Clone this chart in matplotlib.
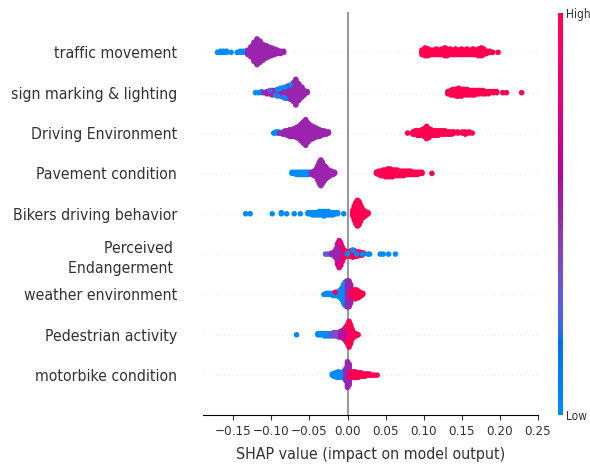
import numpy as np
import matplotlib
matplotlib.use("Agg")
import matplotlib.pyplot as plt
from matplotlib.colors import LinearSegmentedColormap
import matplotlib.cm as cm

# ---------------- data ----------------
features = [
    "traffic movement",
    "sign marking & lighting",
    "Driving Environment",
    "Pavement condition",
    "Bikers driving behavior",
    "Perceived \nEndangerment ",
    "weather environment",
    "Pedestrian activity",
    "motorbike condition",
]

# each entry: (SHAP value, number of samples at that value, feature value level 0=low .. 1=high)
traffic_movement = [
    (-0.171, 1, 0), (-0.167, 2, 0), (-0.163, 2, 0), (-0.159, 2, 0), (-0.153, 1, 0),
    (-0.145, 1, 0), (-0.141, 2, 0), (-0.137, 2, 0), (-0.134, 2, 0),
    (-0.131, 5, .5), (-0.127, 10, .5), (-0.123, 18, .5), (-0.119, 24, .5), (-0.115, 20, .5),
    (-0.111, 15, .5), (-0.107, 12, .5), (-0.104, 10, .5), (-0.100, 8, .5), (-0.096, 6, .5),
    (-0.092, 4, .5), (-0.088, 3, .5), (-0.084, 2, .5),
    (0.098, 5, 1), (0.102, 8, 1), (0.106, 7, 1), (0.109, 5, 1), (0.113, 5, 1), (0.117, 6, 1),
    (0.120, 5, 1), (0.124, 6, 1), (0.128, 8, 1), (0.131, 7, 1), (0.135, 6, 1), (0.139, 5, 1),
    (0.142, 6, 1), (0.146, 5, 1), (0.150, 6, 1), (0.153, 5, 1), (0.157, 6, 1), (0.161, 5, 1),
    (0.165, 6, 1), (0.168, 5, 1), (0.172, 7, 1), (0.176, 8, 1), (0.179, 6, 1), (0.183, 3, 1),
    (0.187, 2, 1), (0.191, 1, 1), (0.198, 1, 1),
]
sign_marking = [
    (-0.121, 1, 0), (-0.117, 1, 0), (-0.113, 2, 0), (-0.106, 1, 0), (-0.099, 2, 0),
    (-0.110, 1, .5), (-0.106, 2, .5), (-0.102, 3, .5), (-0.099, 3, .5), (-0.095, 4, .5),
    (-0.092, 5, .5), (-0.088, 7, .5), (-0.085, 8, .5), (-0.082, 9, .5), (-0.078, 12, .5),
    (-0.075, 13, .5), (-0.071, 18, .5), (-0.068, 24, .5), (-0.064, 16, .5), (-0.060, 10, .5),
    (-0.057, 5, .5), (-0.053, 2, .5),
    (-0.102, 1, .3), (-0.095, 1, .3), (-0.085, 1, .3),
    (-0.092, 2, 0), (-0.088, 1, 0), (-0.082, 2, 0), (-0.075, 1, 0),
    (0.132, 3, 1), (0.136, 5, 1), (0.139, 6, 1), (0.143, 7, 1), (0.146, 8, 1), (0.150, 7, 1),
    (0.153, 6, 1), (0.157, 6, 1), (0.160, 5, 1), (0.164, 5, 1), (0.167, 5, 1), (0.171, 4, 1),
    (0.174, 4, 1), (0.178, 4, 1), (0.181, 3, 1), (0.185, 3, 1), (0.188, 2, 1), (0.192, 2, 1),
    (0.196, 2, 1), (0.204, 1, 1), (0.209, 1, 1), (0.229, 1, 1),
]
driving_environment = [
    (-0.097, 1, 0), (-0.094, 2, 0), (-0.091, 2, 0), (-0.088, 1, 0), (-0.085, 2, 0),
    (-0.082, 2, 0), (-0.079, 2, 0), (-0.076, 2, 0), (-0.073, 1, 0),
    (-0.089, 1, .5), (-0.085, 1, .5), (-0.082, 2, .5), (-0.079, 3, .5), (-0.076, 5, .5),
    (-0.073, 6, .5), (-0.070, 8, .5), (-0.067, 10, .5), (-0.064, 12, .5), (-0.061, 16, .5),
    (-0.058, 20, .5), (-0.055, 24, .5), (-0.052, 18, .5), (-0.049, 14, .5), (-0.046, 12, .5),
    (-0.043, 10, .5), (-0.040, 8, .5), (-0.037, 7, .5), (-0.034, 5, .5), (-0.031, 4, .5),
    (-0.028, 3, .5), (-0.025, 2, .5),
    (0.079, 1, 1), (0.086, 3, 1), (0.089, 4, 1), (0.092, 5, 1), (0.095, 5, 1), (0.098, 6, 1),
    (0.101, 8, 1), (0.104, 12, 1), (0.107, 9, 1), (0.110, 6, 1), (0.113, 5, 1), (0.116, 5, 1),
    (0.119, 5, 1), (0.122, 4, 1), (0.125, 4, 1), (0.128, 4, 1), (0.131, 3, 1), (0.134, 3, 1),
    (0.137, 3, 1), (0.140, 2, 1), (0.145, 2, 1), (0.151, 2, 1), (0.155, 3, 1), (0.160, 2, 1),
    (0.164, 1, 1),
]
pavement_condition = [
    (-0.073, 2, 0), (-0.070, 2, 0), (-0.067, 3, 0), (-0.064, 3, 0), (-0.061, 3, 0),
    (-0.058, 3, 0), (-0.055, 3, 0), (-0.052, 3, 0), (-0.049, 2, 0),
    (-0.047, 3, .5), (-0.044, 5, .5), (-0.041, 8, .5), (-0.039, 14, .5), (-0.037, 20, .5),
    (-0.035, 24, .5), (-0.033, 20, .5), (-0.031, 15, .5), (-0.029, 12, .5), (-0.027, 9, .5),
    (-0.025, 7, .5), (-0.023, 5, .5), (-0.021, 4, .5), (-0.019, 3, .5), (-0.017, 2, .5),
    (0.038, 2, 1), (0.041, 4, 1), (0.044, 5, 1), (0.047, 6, 1), (0.050, 7, 1), (0.053, 8, 1),
    (0.056, 8, 1), (0.059, 7, 1), (0.062, 6, 1), (0.065, 6, 1), (0.068, 5, 1), (0.071, 5, 1),
    (0.074, 5, 1), (0.077, 4, 1), (0.080, 4, 1), (0.083, 4, 1), (0.086, 3, 1), (0.089, 3, 1),
    (0.092, 3, 1), (0.095, 2, 1), (0.098, 2, 1), (0.111, 1, 1),
]
bikers_behavior = [
    (-0.134, 1, 0), (-0.128, 1, 0), (-0.099, 1, 0), (-0.087, 2, 0), (-0.080, 1, 0),
    (-0.070, 1, 0), (-0.062, 1, 0), (-0.052, 2, 0), (-0.049, 2, 0), (-0.046, 3, 0),
    (-0.043, 3, 0), (-0.040, 3, 0), (-0.037, 4, 0), (-0.034, 4, 0), (-0.031, 5, 0),
    (-0.028, 4, 0), (-0.025, 4, 0), (-0.022, 3, 0), (-0.019, 3, 0), (-0.016, 2, 0),
    (-0.013, 2, 0), (-0.005, 1, 0),
    (0.007, 6, 1), (0.009, 14, 1), (0.011, 20, 1), (0.013, 24, 1), (0.015, 22, 1),
    (0.017, 16, 1), (0.019, 10, 1), (0.021, 7, 1), (0.023, 5, 1), (0.025, 3, 1), (0.027, 2, 1),
]
perceived_endangerment = [
    (-0.029, 1, .3), (-0.026, 1, .3), (-0.023, 1, .3),
    (-0.021, 2, .5), (-0.019, 3, .5), (-0.017, 5, .5), (-0.015, 10, .5), (-0.013, 18, .5),
    (-0.011, 24, .5), (-0.009, 20, .5), (-0.007, 12, .5), (-0.005, 6, .5), (-0.003, 4, .5),
    (-0.013, 3, .75), (-0.011, 3, .75), (-0.009, 3, .75), (-0.007, 3, .75), (-0.003, 2, .75),
    (-0.005, 3, 1), (-0.002, 4, 1), (0.001, 5, 1), (0.004, 6, 1), (0.007, 7, 1), (0.010, 6, 1),
    (0.013, 5, 1), (0.016, 4, 1), (0.019, 3, 1), (0.021, 2, 1),
    (0.000, 2, 0), (0.007, 1, 0), (0.012, 1, 0), (0.020, 1, 0), (0.027, 1, 0), (0.029, 1, 0),
    (0.043, 1, 0), (0.047, 1, 0), (0.054, 1, 0), (0.063, 1, 0),
]
weather_environment = [
    (-0.031, 1, 0), (-0.028, 2, 0), (-0.025, 2, 0), (-0.022, 2, 0), (-0.019, 3, 0),
    (-0.016, 3, 0), (-0.013, 4, 0), (-0.011, 6, 0), (-0.009, 8, 0), (-0.007, 12, 0),
    (-0.005, 18, 0), (-0.003, 22, 0), (-0.001, 24, 0),
    (-0.016, 1, 1),
    (0.000, 24, .5), (0.002, 24, .5), (0.004, 18, .5), (0.006, 8, .5),
    (0.005, 4, 1), (0.008, 8, 1), (0.010, 9, 1), (0.012, 8, 1), (0.014, 7, 1), (0.016, 5, 1),
    (0.018, 3, 1), (0.020, 2, 1),
]
pedestrian_activity = [
    (-0.067, 1, 0), (-0.039, 2, 0), (-0.036, 2, 0), (-0.033, 2, 0), (-0.030, 3, 0),
    (-0.027, 3, 0), (-0.024, 3, 0),
    (-0.021, 3, .35), (-0.018, 4, .35), (-0.015, 4, .35), (-0.012, 5, .35),
    (-0.009, 6, .55), (-0.006, 8, .55), (-0.004, 10, .55), (-0.002, 14, .55),
    (0.000, 10, .8), (0.002, 12, .8), (0.004, 10, .8), (0.006, 6, .8),
    (0.000, 8, 1), (0.002, 12, 1), (0.004, 8, 1), (0.006, 4, 1), (0.008, 5, 1),
    (0.011, 3, 1), (0.014, 1, 1),
]
motorbike_condition = [
    (-0.020, 2, 0), (-0.018, 3, 0), (-0.016, 4, 0), (-0.014, 5, 0), (-0.012, 6, 0),
    (-0.010, 5, 0), (-0.008, 5, 0), (-0.006, 6, 0), (-0.004, 8, 0),
    (-0.002, 12, .5), (0.000, 24, .5), (0.002, 20, .5),
    (0.004, 4, 1), (0.006, 5, 1), (0.008, 6, 1), (0.010, 6, 1), (0.012, 5, 1), (0.014, 5, 1),
    (0.016, 4, 1), (0.018, 4, 1), (0.020, 3, 1), (0.023, 3, 1), (0.026, 2, 1), (0.029, 2, 1),
    (0.032, 1, 1), (0.035, 1, 1), (0.039, 1, 1),
]

feature_points = [
    traffic_movement, sign_marking, driving_environment, pavement_condition,
    bikers_behavior, perceived_endangerment, weather_environment,
    pedestrian_activity, motorbike_condition,
]
x_ticks = [-0.15, -0.10, -0.05, 0.00, 0.05, 0.10, 0.15, 0.20, 0.25]
x_label = "SHAP value (impact on model output)"
cbar_labels = ["Low", "High"]


# ---------------- SHAP red-blue colormap (LCH interpolation) ----------------
def lab_to_rgb(L, a, b):
    fy = (L + 16.0) / 116.0
    fx = fy + a / 500.0
    fz = fy - b / 200.0

    def finv(t):
        t3 = t ** 3
        return np.where(t3 > 0.008856, t3, (t - 16.0 / 116.0) / 7.787)

    X = 0.95047 * finv(fx)
    Y = 1.00000 * finv(fy)
    Z = 1.08883 * finv(fz)
    r = 3.2406 * X - 1.5372 * Y - 0.4986 * Z
    g = -0.9689 * X + 1.8758 * Y + 0.0415 * Z
    bb = 0.0557 * X - 0.2040 * Y + 1.0570 * Z
    rgb = np.stack([r, g, bb], axis=-1)
    rgb = np.where(rgb > 0.0031308, 1.055 * np.clip(rgb, 0, None) ** (1 / 2.4) - 0.055, 12.92 * rgb)
    return np.clip(rgb, 0, 1)


nsteps = 100
blue_lch = [54.0, 70.0, 4.6588]
red_lch = [54.0, 90.0, 0.35470565 + 2 * np.pi]
l_mid = 40.0
l_vals = np.concatenate([np.linspace(blue_lch[0], l_mid, nsteps // 2),
                         np.linspace(l_mid, red_lch[0], nsteps // 2)])
c_vals = np.linspace(blue_lch[1], red_lch[1], nsteps)
h_vals = np.linspace(blue_lch[2], red_lch[2], nsteps)
cmap_colors = lab_to_rgb(l_vals, c_vals * np.cos(h_vals), c_vals * np.sin(h_vals))
red_blue = LinearSegmentedColormap.from_list("red_blue", cmap_colors)

# ---------------- figure ----------------
FONT = "DejaVu Sans"
axis_color = "#333333"
fig = plt.figure(figsize=(5.90, 4.67), dpi=100)
ax = fig.add_axes([0.3441, 0.1103, 0.5678, 0.8640])

N = len(features)
row_height = 0.4
ax.axvline(x=0, color="#999999", lw=1.5, zorder=-1)

for i, pts in enumerate(feature_points):
    pos = N - 1 - i
    ax.axhline(y=pos, color="#cccccc", lw=0.5, dashes=(1, 5), zorder=-1)
    xs = np.array([p[0] for p in pts for _ in range(p[1])])
    lv = np.array([p[2] for p in pts for _ in range(p[1])])
    # beeswarm layout: stack samples that share a bin alternately up / down
    uniq = np.unique(xs)
    quant = np.searchsorted(uniq, xs)
    order = np.argsort(quant, kind="stable")
    ys = np.zeros(len(xs))
    layer, last = 0, -1
    for ind in order:
        if quant[ind] != last:
            layer = 0
        ys[ind] = np.ceil(layer / 2) * ((layer % 2) * 2 - 1)
        layer += 1
        last = quant[ind]
    ys *= 0.9 * (row_height / np.max(ys + 1))
    ax.scatter(xs, pos + ys, c=lv, cmap=red_blue, vmin=0, vmax=1, s=16,
               linewidths=0, alpha=1, zorder=3, rasterized=True)

ax.set_xlim(-0.190, 0.2505)
ax.set_ylim(-1, N)
ax.set_yticks(range(N))
ax.set_yticklabels(features[::-1], fontsize=11.3, family=FONT, fontstretch="condensed",
                   color=axis_color, linespacing=1.45)
ax.set_xticks(x_ticks)
ax.set_xticklabels([f"{t:.2f}".replace("-", "\u2212") for t in x_ticks], fontsize=9.6,
                   family=FONT, fontstretch="condensed", color=axis_color)
ax.set_xlabel(x_label, fontsize=11.4, family=FONT, fontstretch="condensed",
              color=axis_color, labelpad=6)

for s in ("right", "top", "left"):
    ax.spines[s].set_visible(False)
ax.xaxis.set_ticks_position("bottom")
ax.yaxis.set_ticks_position("none")
ax.tick_params(axis="y", length=0, pad=18.5)
ax.tick_params(axis="x", color=axis_color, length=3.5, width=0.8)

# colour bar
cax = fig.add_axes([0.9463, 0.1115, 0.0075, 0.8612])
sm = cm.ScalarMappable(cmap=red_blue)
sm.set_array([0, 1])
cb = fig.colorbar(sm, cax=cax, ticks=[0, 1])
cb.set_ticklabels(cbar_labels)
for t in cax.get_yticklabels():
    t.set_fontsize(8.6)
    t.set_family(FONT)
    t.set_fontstretch("condensed")
    t.set_color(axis_color)
cax.tick_params(length=0, pad=2.2)
cb.outline.set_visible(False)

fig.savefig("out.png", dpi=100)
